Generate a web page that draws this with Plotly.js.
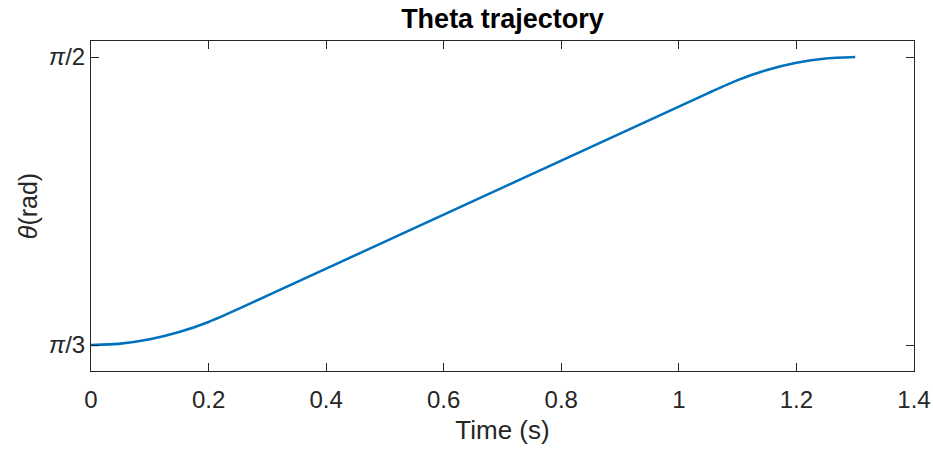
<!DOCTYPE html>
<html>
<head>
<meta charset="utf-8">
<script src="https://cdn.plot.ly/plotly-3.0.1.min.js"></script>
<style>html,body{margin:0;padding:0;background:#fff;}#chart{width:933px;height:450px;}</style>
</head>
<body>
<div id="chart"></div>
<script>
const time = [0, 0.05, 0.10, 0.15, 0.20, 0.25, 0.30, 0.35, 0.40, 0.45, 0.50, 0.55, 0.60, 0.65,
  0.70, 0.75, 0.80, 0.85, 0.90, 0.95, 1.00, 1.05, 1.10, 1.15, 1.20, 1.25, 1.30];
const theta = [1.0472, 1.0498, 1.0577, 1.0708, 1.0892, 1.1125, 1.1371, 1.1616, 1.1862, 1.2107,
  1.2353, 1.2598, 1.2844, 1.3089, 1.3335, 1.3580, 1.3826, 1.4071, 1.4317, 1.4562, 1.4808,
  1.5053, 1.5288, 1.5472, 1.5603, 1.5682, 1.5708];
const xTicks = [0, 0.2, 0.4, 0.6, 0.8, 1, 1.2, 1.4];
const xTickText = ['0', '0.2', '0.4', '0.6', '0.8', '1', '1.2', '1.4'];
const yTicks = [Math.PI / 3, Math.PI / 2];
const yTickText = ['<i>π</i>/3', '<i>π</i>/2'];

const font = 'Liberation Sans, Arial, Helvetica, sans-serif';
const axisCol = '#262626';

Plotly.newPlot('chart', [{
  x: time, y: theta, type: 'scatter', mode: 'lines',
  line: {color: '#0072BD', width: 2.6, shape: 'spline', smoothing: 0.6},
  hoverinfo: 'skip'
}], {
  width: 933, height: 450,
  margin: {l: 91, r: 19, t: 41, b: 79, pad: 0},
  paper_bgcolor: '#fff', plot_bgcolor: '#fff',
  showlegend: false,
  title: {text: '<b>Theta trajectory</b>', font: {family: font, size: 27, color: '#000'},
    x: 0.5385, xanchor: 'center', y: 0.958, yanchor: 'middle'},
  xaxis: {
    range: [0, 1.4], tickvals: xTicks, ticktext: xTickText,
    ticks: 'inside', ticklen: 8, tickwidth: 1, tickcolor: axisCol,
    showline: true, linecolor: axisCol, linewidth: 1, mirror: 'ticks',
    showgrid: false, zeroline: false, ticklabelstandoff: 7,
    tickfont: {family: font, size: 24, color: axisCol},
    title: {text: 'Time (s)', font: {family: font, size: 26, color: axisCol}, standoff: 9}
  },
  yaxis: {
    range: [1.0, 1.6], tickvals: yTicks, ticktext: yTickText,
    ticks: 'inside', ticklen: 8, tickwidth: 1, tickcolor: axisCol,
    showline: true, linecolor: axisCol, linewidth: 1, mirror: 'ticks',
    showgrid: false, zeroline: false,
    tickfont: {family: font, size: 24, color: axisCol},
    title: {text: '<i>θ</i>(rad)', font: {family: font, size: 25, color: axisCol}, standoff: 4}
  }
}, {displayModeBar: false, staticPlot: true});
</script>
</body>
</html>
